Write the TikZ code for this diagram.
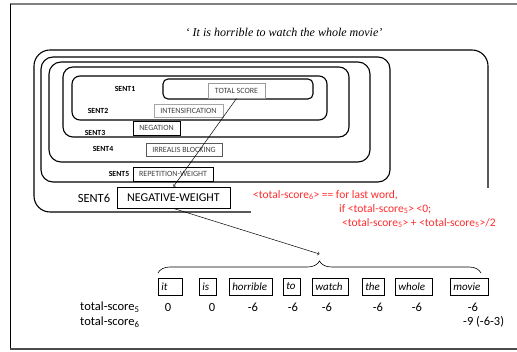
\documentclass[tikz,border=0pt]{standalone}
\usepackage{fontspec}
\setmainfont{Carlito}
\newfontfamily\titlefont{Liberation Serif}
\usetikzlibrary{decorations.pathreplacing}
\definecolor{rulered}{RGB}{255,45,45}

\tikzset{
  sentbox/.style={line width=1.1pt, rounded corners=#1},
  sentlabel/.style={font=\fontsize{7.8}{9}\selectfont\bfseries},
  rulebox/.style={draw=#1, line width=0.9pt, font=\fontsize{8}{9}\selectfont, text=black!75, inner sep=0pt},
  wordbox/.style={draw, line width=0.6pt, font=\fontsize{11}{13}\selectfont\itshape, inner xsep=3pt, inner ysep=0pt, minimum height=17pt, align=left},
  score/.style={font=\fontsize{12.5}{15}\selectfont, inner sep=0pt}
}

\begin{document}
\begin{tikzpicture}[x=1pt,y=-1pt]
        \useasboundingbox (0,0) rectangle (517,352);
        \draw[black!50,line width=1.5pt] (10,4) -- (517,4);
        \draw[line width=0.8pt] (10,4) -- (10,349);
        \draw[black!70,line width=2pt] (10,349) -- (517,349);
        \node (title) at (284,32) {\titlefont\itshape\fontsize{12}{14}\selectfont ‘ It is horrible to watch the whole movie’};
        \draw[sentbox=16pt] (34,50) rectangle (488,212);
        \draw[sentbox=12pt] (41,57) rectangle (390,182);
        \draw[sentbox=12pt] (49,62) rectangle (370,162);
        \draw[sentbox=10pt] (63,67) rectangle (349,137);
        \draw[sentbox=8pt] (72,76) rectangle (327,120);
        \draw[sentbox=5pt] (163,79) rectangle (313,99);
        \node[sentlabel] (sent1) at (125,89) {SENT1};
        \node[sentlabel] (sent2) at (98,111) {SENT2};
        \node[sentlabel] (sent3) at (95,133) {SENT3};
        \node[sentlabel] (sent4) at (103,149) {SENT4};
        \node[sentlabel] (sent5) at (119,174) {SENT5};
        \node[font=\fontsize{12.5}{15}\selectfont] (sent6) at (94,198) {SENT6};
        \node[rulebox=black!40, minimum width=57pt, minimum height=15pt] (total) at (236.5,90.5) {TOTAL SCORE};
        \node[rulebox=black!35, minimum width=69pt, minimum height=13pt] (intens) at (188.5,110.5) {INTENSIFICATION};
        \node[rulebox=black, minimum width=47pt, minimum height=14pt] (neg) at (156.5,128) {NEGATION};
        \node[rulebox=black!65, minimum width=76pt, minimum height=13pt] (irr) at (184,149.5) {IRREALIS BLOCKING};
        \node[rulebox=black, minimum width=80pt, minimum height=14pt] (rep) at (173,174) {REPETITION-WEIGHT};
        \node[rulebox=black, text=black, font=\fontsize{12}{14}\selectfont, minimum width=113pt, minimum height=21pt] (negw) at (173.5,197.5) {NEGATIVE-WEIGHT};
        \draw[->,line width=0.5pt] (total.south) -- (negw.north);
        \node[fill=white, text=rulered, anchor=north west, align=left, inner sep=2pt, font=\fontsize{11.5}{14}\selectfont] (rule6) at (251,188)
          {<total-score\textsubscript{6}> == for last word,\\
           \hspace*{86pt}if <total-score\textsubscript{5}> <0;\\
           \hspace*{89pt}<total-score\textsubscript{5}> + <total-score\textsubscript{5}>/2};
        \draw[decorate,decoration={brace,amplitude=12pt},line width=0.6pt] (158,273) -- (481,273);
        \coordinate (bracetip) at (319.5,254);
        \draw[->,line width=0.5pt] (negw.south) -- (bracetip);
        \foreach \w/\l/\r in {it/158/183,is/199/217,horrible/229/273,to/283/301,watch/312/349,the/362/385,whole/395/433,movie/450/489}{
          \pgfmathsetmacro\tw{\r-\l-6.6}
          \node[wordbox, text width=\tw pt, anchor=west] (w-\w) at (\l,286.5) {\w};}
        \node[score, anchor=west] (ts5) at (80,307) {total-score\textsubscript{5}};
        \node[score, anchor=west] (ts6) at (80,322) {total-score\textsubscript{6}};
        \foreach \v/\x [count=\i] in {0/168,0/212,-6/253,-6/293,-6/327,-6/378,-6/417,-6/473}{
          \node[score] (v\i) at (\x,307) {\v};}
        \node[score, anchor=west] (v9) at (463,322) {-9 (-6-3)};
      \end{tikzpicture}
\end{document}
